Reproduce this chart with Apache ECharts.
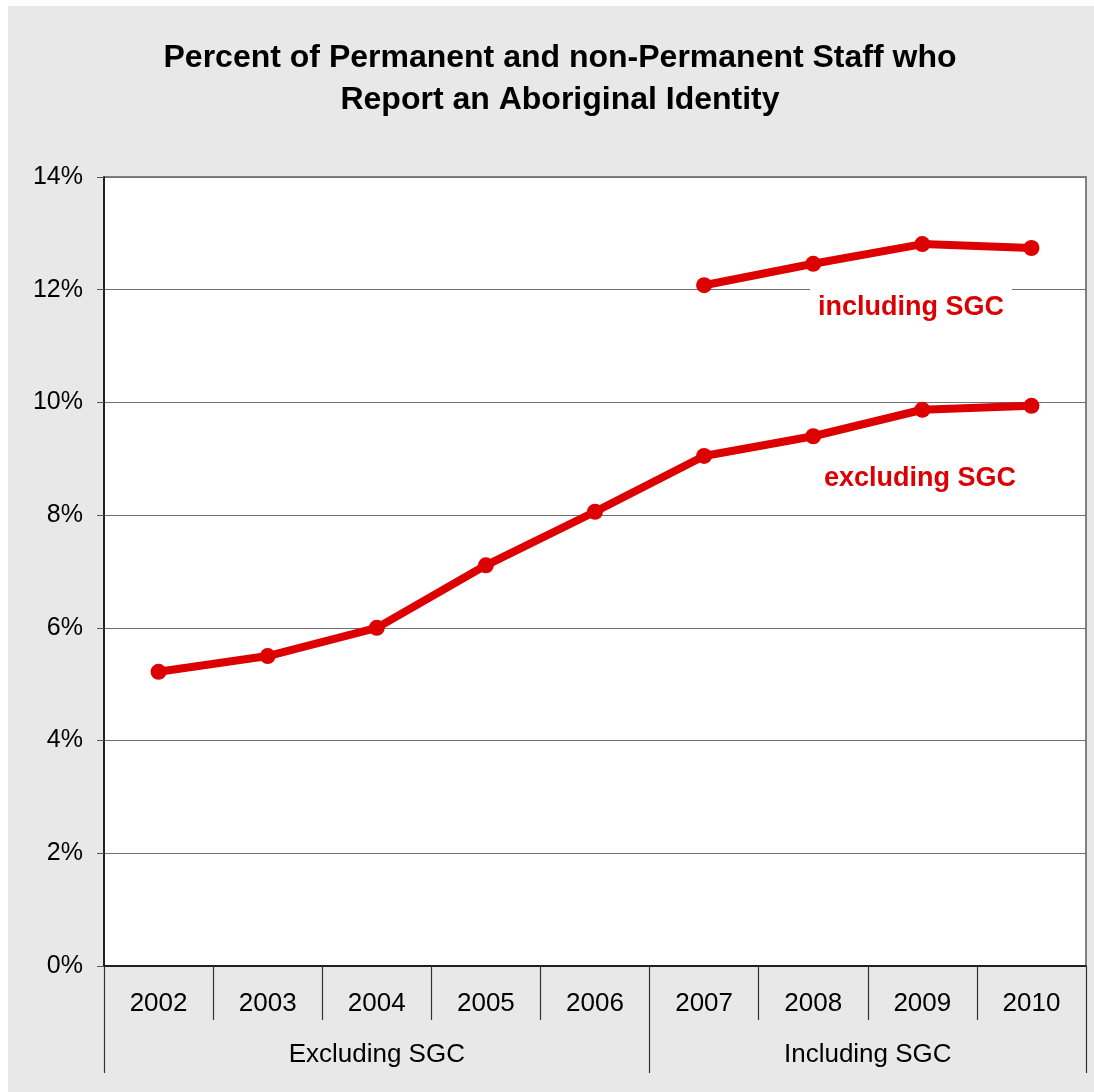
<!DOCTYPE html>
<html><head><meta charset="utf-8">
<script src="https://cdn.jsdelivr.net/npm/echarts@6/dist/echarts.min.js"></script>
<style>html,body{margin:0;padding:0;background:#fff}#c{width:1094px;height:1092px}</style>
</head><body><div id="c"></div>
<script>
const years = ['2002','2003','2004','2005','2006','2007','2008','2009','2010'];
const excludingSGC = [5.22, 5.50, 6.00, 7.11, 8.06, 9.05, 9.40, 9.87, 9.94];
const includingSGC = [null, null, null, null, null, 12.08, 12.46, 12.81, 12.74];
const groupNames = ['Excluding SGC', 'Including SGC'];
const groupCenters = [2.5, 7];
const groupBounds = [0, 5, 9];

const FONT = 'Liberation Sans, Arial, sans-serif';
const RED = '#dd0000';
const chart = echarts.init(document.getElementById('c'), null, {renderer: 'canvas'});
chart.setOption({
  backgroundColor: '#ffffff',
  animation: false,
  title: {
    text: 'Percent of Permanent and non-Permanent Staff who\nReport an Aboriginal Identity',
    left: 560, top: 37, textAlign: 'center', padding: 0,
    textStyle: {fontFamily: FONT, fontSize: 32, fontWeight: 'bold', color: '#000', lineHeight: 42}
  },
  graphic: [
    {type: 'rect', z: -100, silent: true, shape: {x: 8, y: 6, width: 1086, height: 1086}, style: {fill: '#e8e8e8'}},
    {type: 'text', z: 100, left: 810, top: 289, style: {text: 'including SGC', font: 'bold 27px ' + FONT, fill: RED, backgroundColor: '#fff', padding: [5, 8, 4, 8]}},
    {type: 'text', z: 100, left: 824, top: 465, style: {text: 'excluding SGC', font: 'bold 27px ' + FONT, fill: RED}}
  ],
  grid: {left: 104, right: 8, top: 177, bottom: 126, show: true, backgroundColor: '#fff', borderColor: '#808080', borderWidth: 2, containLabel: false},
  xAxis: [
    {
      type: 'category', data: years, boundaryGap: true, position: 'bottom',
      axisLine: {show: true, lineStyle: {color: '#000', width: 1.5}},
      axisTick: {show: true, interval: 0, length: 54, lineStyle: {color: '#333', width: 1.2}},
      axisLabel: {interval: 0, margin: 25, fontFamily: FONT, fontSize: 26, color: '#000'},
      splitLine: {show: false}
    },
    {
      type: 'value', min: 0, max: 9, position: 'bottom', offset: 54,
      axisLine: {show: false},
      axisTick: {show: true, length: 53, customValues: groupBounds, lineStyle: {color: '#333', width: 1.2}},
      axisLabel: {show: true, margin: 22, customValues: groupCenters, fontFamily: FONT, fontSize: 26, color: '#000',
        formatter: function (v) { const i = groupCenters.indexOf(v); return i >= 0 ? groupNames[i] : ''; }},
      splitLine: {show: false}
    }
  ],
  yAxis: {
    type: 'value', min: 0, max: 14, interval: 2,
    axisLine: {show: true, lineStyle: {color: '#000', width: 1.5}},
    axisTick: {show: true, length: 7, lineStyle: {color: '#555'}},
    axisLabel: {margin: 21, fontFamily: FONT, fontSize: 25, color: '#000', formatter: '{value}%'},
    splitLine: {show: true, lineStyle: {color: '#707070', width: 1.2}}
  },
  series: [
    {type: 'line', name: 'excluding SGC', data: excludingSGC, xAxisIndex: 0, symbol: 'circle', symbolSize: 16,
      lineStyle: {color: RED, width: 8}, itemStyle: {color: RED}, z: 5},
    {type: 'line', name: 'including SGC', data: includingSGC, xAxisIndex: 0, symbol: 'circle', symbolSize: 16,
      lineStyle: {color: RED, width: 8}, itemStyle: {color: RED}, z: 5}
  ]
});
</script></body></html>
